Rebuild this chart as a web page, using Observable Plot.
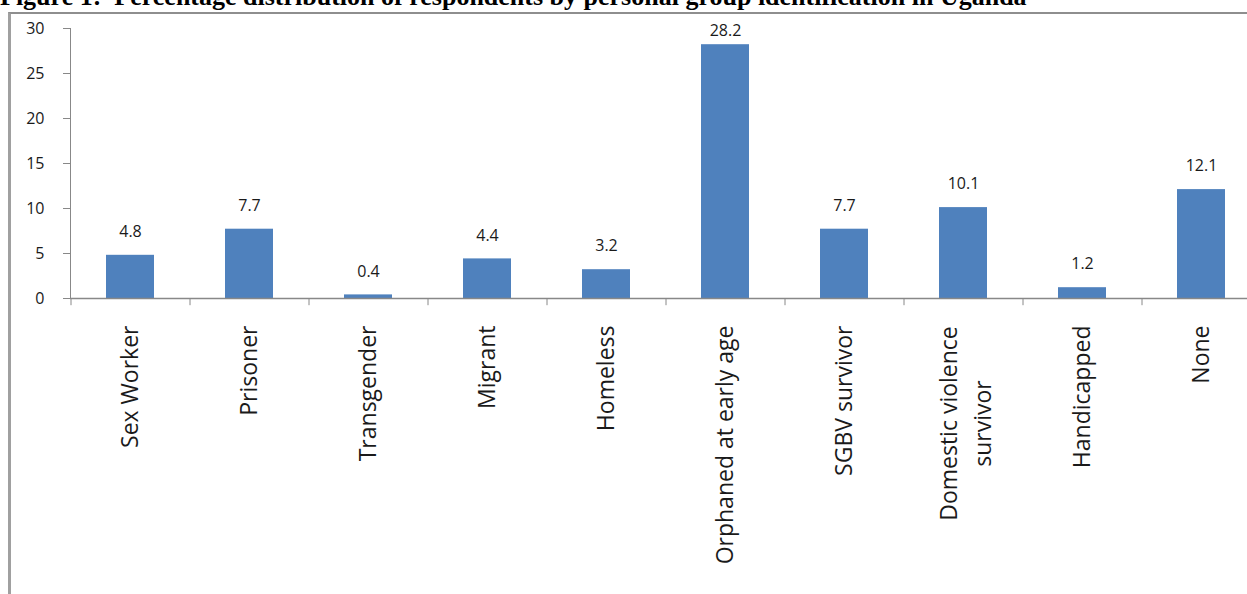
<!DOCTYPE html>
<html>
<head>
<meta charset="utf-8">
<script src="https://cdn.jsdelivr.net/npm/d3@7"></script>
<script src="https://cdn.jsdelivr.net/npm/@observablehq/plot@0.6"></script>
<style>
  html, body { margin: 0; padding: 0; background: #fff; overflow: hidden; width: 1247px; height: 594px; }
  #title { position: absolute; left: 0; top: -16px; font-family: "Liberation Serif", "Times New Roman", serif; font-weight: bold; font-size: 26px; line-height: 26px; white-space: pre; color: #000; }
  #frame { position: absolute; left: 8px; top: 12px; width: 1400px; height: 700px; border-left: 3px solid #a0a0a0; border-top: 2px solid #8e8e8e; }
  #chart { position: absolute; left: 0; top: 0; }
  #chart svg { max-width: none !important; }
</style>
</head>
<body>
<div id="frame"></div>
<div id="title">Figure 1:  Percentage distribution of respondents by personal group identification in Uganda</div>
<div id="chart"></div>
<script>
const categories = ["Sex Worker", "Prisoner", "Transgender", "Migrant", "Homeless", "Orphaned at early age", "SGBV survivor", "Domestic violence\nsurvivor", "Handicapped", "None"];
const values = [4.8, 7.7, 0.4, 4.4, 3.2, 28.2, 7.7, 10.1, 1.2, 12.1];
const yTicks = [0, 5, 10, 15, 20, 25, 30];

const data = categories.map((c, i) => ({cat: c, value: values[i]}));

const W = 1262, H = 594, ML = 70, MR = 2, MT = 28, MB = 296;
const step = (W - ML - MR) / categories.length;
const labelFont = 23;
const single = data.filter(d => !d.cat.includes("\n"));
const multi = data.filter(d => d.cat.includes("\n"));

const chart = Plot.plot({
  width: W, height: H,
  marginLeft: ML, marginRight: MR, marginTop: MT, marginBottom: MB,
  style: {fontFamily: "'Open Sans', sans-serif", background: "transparent", maxWidth: "none"},
  x: {domain: categories, paddingInner: 0.6, paddingOuter: 0.3, axis: null},
  y: {domain: [0, 30], axis: null},
  marks: [
    Plot.barY(data, {x: "cat", y: "value", fill: "#4F81BD"}),
    Plot.ruleY([0], {stroke: "#888", strokeWidth: 1.5}),
    Plot.frame({anchor: "left", stroke: "#888"}),
    Plot.ruleX(categories, {x: d => d, y1: 0, y2: -0.8, dx: -step / 2, stroke: "#888"}),
    Plot.axisY({ticks: yTicks, tickSize: 7, tickPadding: 19, stroke: "#888", fill: "#1a1a1a", fontSize: 16, label: null}),
    Plot.text(data, {x: "cat", y: d => Math.min(d.value + 2.6, 29.7), text: d => d.value.toFixed(1), fontSize: 16, fill: "#1a1a1a"}),
    Plot.text(single, {x: "cat", frameAnchor: "bottom", text: "cat", rotate: -90, textAnchor: "end", lineAnchor: "middle", dy: 27, fontSize: labelFont, fill: "#1a1a1a"}),
    Plot.text(multi, {x: "cat", frameAnchor: "bottom", text: "cat", rotate: -90, textAnchor: "middle", lineAnchor: "middle", lineHeight: 1.48, dy: 27 + 98, fontSize: labelFont, fill: "#1a1a1a"})
  ]
});
document.getElementById("chart").appendChild(chart);
</script>
</body>
</html>
